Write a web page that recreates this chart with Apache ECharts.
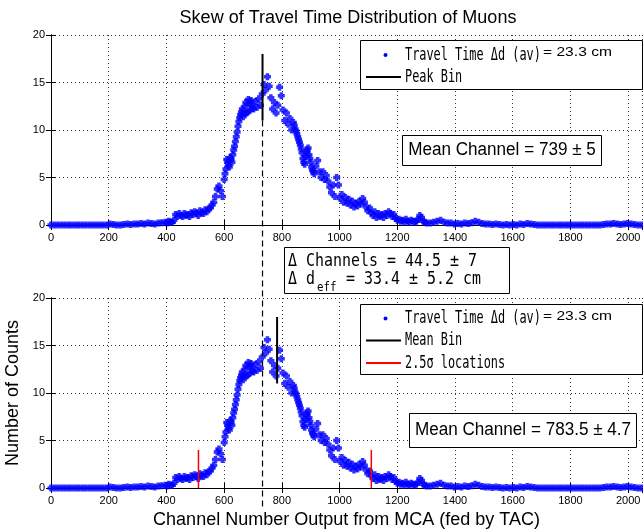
<!DOCTYPE html>
<html>
<head>
<meta charset="utf-8">
<script src="https://cdn.jsdelivr.net/npm/echarts@6.0.0/dist/echarts.min.js"></script>
<style>
  html, body { margin: 0; padding: 0; background: #fff; }
  #main { width: 643px; height: 531px; }
</style>
</head>
<body>
<div id="main"></div>
<script>
// counts per MCA channel (same spectrum in both panels)
var tailStep = 12;
var tailLeftStart = 0;
var tailLeft = [
  0, 0, 0, 0, 0, 0, 0, 0, 0, 0, 0, 0, 0, 0, 0, 0, 0,
  0.1, 0.05, 0, 0, 0.05, 0.1, 0.05, 0.1, 0.1, 0.15, 0.1, 0.2, 0.15, 0.1, 0.2, 0.25
];
var coreStart = 396, coreStep = 6;
var core = [
  0.3, 0.2, 0.4, 0.3, 0.3, 0.5,
  1.1, 0.9, 1.2, 1.0, 0.9, 1.2, 1.0, 1.1, 0.9, 1.3,
  1.1, 1.4, 1.2, 1.0, 1.5, 1.3, 1.2, 1.6, 1.4, 1.7,
  1.8, 2.1, 2.4, 3.0, 3.8, 4.1, 3.6, 3.0, 4.8, 5.9,
  6.6, 6.1, 6.9, 7.4, 8.3, 9.3, 10.4, 11.3, 11.9, 11.4,
  12.5, 11.8, 13.2, 12.1, 12.7, 12.2, 13.0, 12.4, 13.3, 12.6,
  13.8, 14.8, 14.2, 15.6, 14.6, 13.4, 12.2, 12.9, 11.8, 12.6,
  14.5, 13.6, 12.1, 11.0, 11.8, 10.6, 11.2, 10.0, 10.8, 10.1,
  9.6, 9.0, 8.4, 7.6, 6.6, 7.2, 7.9, 7.4, 6.6, 5.8,
  5.4, 6.2, 6.8, 5.6, 5.0, 5.6, 4.8, 5.2, 4.6, 4.0,
  3.4, 4.2, 3.0, 5.0, 4.2, 2.8, 3.2, 2.4, 2.9, 2.3,
  2.7, 2.1, 2.5, 1.9, 2.3, 2.0, 2.5, 2.2, 2.8, 2.4,
  1.9, 1.5, 1.8, 1.3, 1.0, 1.4, 0.8, 1.2, 0.9, 1.1,
  0.8, 1.2, 1.0, 1.4, 1.2, 0.9, 1.1, 0.7, 0.5, 0.6,
  0.4, 0.5, 0.3, 0.6, 0.4, 0.3, 0.5, 0.4, 0.3, 0.4,
  0.6, 1.0, 0.8, 0.4, 0.3, 0.2
];
// extra readings on the steep flanks (channels in between the core grid)
var riseStart = 603;
var rise = [5.4, 6.9, 6.3, 7.1, 6.6, 7.9, 8.8, 9.8, 10.9, 11.6, 12.2, 11.7, 12.9, 11.9, 12.8, 13.1, 12.3];
var fallStart = 843;
var fall = [10.5, 9.9, 9.3, 8.7, 8.0, 7.0, 6.4, 7.6, 8.1, 7.0, 6.1, 5.6];
var tailRightStart = 1314;
var tailRight = [
  0.2, 0.3, 0.4, 0.5, 0.3, 0.2, 0.2, 0.1, 0.15, 0.1, 0.2, 0.15, 0.25, 0.4, 0.3, 0.15, 0.1, 0.1, 0.05, 0.1,
  0.05, 0, 0.05, 0, 0.05, 0, 0.1, 0.05, 0.15, 0.1, 0.05, 0, 0, 0, 0, 0, 0, 0, 0, 0,
  0, 0, 0, 0, 0, 0, 0, 0, 0, 0, 0.05, 0.1, 0.1, 0.15, 0.1, 0.05, 0.1, 0.15, 0.1, 0.05,
  0, 0
];
var peakBin = 733;        // top panel marker
var meanBin = 783.5;      // bottom panel marker
var sigmaLocs = [511, 1110];
var barLow = 11, barHigh = 18, sigmaHigh = 4;
var dashTop = 11, dashBottom = -2;
var xTicks = { min: 0, max: 2048, interval: 200 };
var yTicks = { min: 0, max: 20, interval: 5 };

function spectrum() {
  var out = [];
  function add(arr, start, step) {
    arr.forEach(function (v, i) { out.push([start + i * step, v]); });
  }
  add(tailLeft, tailLeftStart, tailStep);
  add(core, coreStart, coreStep);
  add(rise, riseStart, coreStep);
  add(fall, fallStart, coreStep);
  add(tailRight, tailRightStart, tailStep);
  return out;
}
var pts = spectrum();

var FONT = 'Liberation Sans';
var MONO = 'DejaVu Sans Mono';
var BLUE = '#0000ff';
var STAR = 'path://M1.5,0H4.5V1.5H6V4.5H4.5V6H1.5V4.5H0V1.5H1.5Z';

function xAxesFor(g, withName) {
  var ax = {
    gridIndex: g, type: 'value', min: xTicks.min, max: xTicks.max, interval: xTicks.interval,
    position: 'bottom',
    axisLine: { lineStyle: { color: '#000', width: 1 } },
    axisTick: { inside: true, length: 5, lineStyle: { color: '#000' } },
    axisLabel: { color: '#000', fontSize: 11, fontFamily: FONT, margin: 7, showMaxLabel: false,
      formatter: function (v) { return String(v); } },
    splitLine: { show: true, lineStyle: { color: '#333', type: [1, 3] } }
  };
  if (withName) {
    ax.name = 'Channel Number Output from MCA (fed by TAC)';
    ax.nameLocation = 'middle';
    ax.nameGap = 23;
    ax.nameTextStyle = { color: '#000', fontSize: 18, fontFamily: FONT };
  }
  var top = {
    gridIndex: g, type: 'value', min: xTicks.min, max: xTicks.max, interval: xTicks.interval,
    position: 'top',
    axisLine: { lineStyle: { color: '#000', width: 1 } },
    axisTick: { inside: true, length: 5, lineStyle: { color: '#000' } },
    axisLabel: { show: false }, splitLine: { show: false }
  };
  return [ax, top];
}
function yAxesFor(g, withName) {
  var ax = {
    gridIndex: g, type: 'value', min: yTicks.min, max: yTicks.max, interval: yTicks.interval,
    position: 'left',
    axisLine: { show: true, lineStyle: { color: '#000', width: 1 } },
    axisTick: { show: true, inside: true, length: 5, lineStyle: { color: '#000' } },
    axisLabel: { color: '#000', fontSize: 11, fontFamily: FONT, margin: 6 },
    splitLine: { show: true, lineStyle: { color: '#333', type: [1, 3] } }
  };
  if (withName) {
    ax.name = 'Number of Counts';
    ax.nameLocation = 'middle';
    ax.nameGap = 24;
    ax.nameRotate = 90;
    ax.nameTextStyle = { color: '#000', fontSize: 18, fontFamily: FONT };
  }
  var right = {
    gridIndex: g, type: 'value', min: yTicks.min, max: yTicks.max, interval: yTicks.interval,
    position: 'right',
    axisLine: { show: true, lineStyle: { color: '#000', width: 1 } },
    axisTick: { show: true, inside: true, length: 5, lineStyle: { color: '#000' } },
    axisLabel: { show: false }, splitLine: { show: false }
  };
  return [ax, right];
}

function bar(xi, yi, x, y0, y1, color, w) {
  return {
    type: 'line', xAxisIndex: xi, yAxisIndex: yi, data: [[x, y0], [x, y1]],
    symbol: 'none', lineStyle: { color: color, width: w }, z: 5, silent: true
  };
}

var myChart = echarts.init(document.getElementById('main'));
var option = {
  animation: false,
  backgroundColor: '#fff',
  title: {
    text: 'Skew of Travel Time Distribution of Muons',
    left: 348, top: 9, textAlign: 'center', padding: 0,
    textStyle: { color: '#000', fontSize: 18, fontWeight: 'normal', fontFamily: FONT }
  },
  grid: [
    { left: 51, right: 1, top: 35, height: 190, outerBoundsMode: 'none', containLabel: false },
    { left: 51, right: 1, top: 298, height: 190, outerBoundsMode: 'none', containLabel: false }
  ],
  xAxis: xAxesFor(0, false).concat(xAxesFor(1, true)),
  yAxis: yAxesFor(0, false).concat(yAxesFor(1, true)),
  series: [
    { type: 'scatter', xAxisIndex: 0, yAxisIndex: 0, data: pts, symbol: STAR, symbolSize: 7,
      itemStyle: { color: BLUE }, silent: true },
    { type: 'scatter', xAxisIndex: 2, yAxisIndex: 2, data: pts, symbol: STAR, symbolSize: 7,
      itemStyle: { color: BLUE }, silent: true },
    bar(0, 0, peakBin, barLow, barHigh, '#000', 2),
    bar(2, 2, meanBin, barLow, barHigh, '#000', 2),
    bar(2, 2, sigmaLocs[0], 0, sigmaHigh, '#ff0000', 1.5),
    bar(2, 2, sigmaLocs[1], 0, sigmaHigh, '#ff0000', 1.5)
  ]
};
myChart.setOption(option);

// text boxes and legends
function txt(s, x, y, size, fam, sx, extra) {
  var o = {
    type: 'text', x: x, y: y, scaleX: sx || 1, z: 101,
    style: { text: s, fontSize: size, fontFamily: fam, fill: '#000', align: 'left', verticalAlign: 'middle' }
  };
  if (extra) for (var k in extra) o.style[k] = extra[k];
  return o;
}
function box(x, y, w, h) {
  return { type: 'rect', z: 100, shape: { x: x, y: y, width: w, height: h },
    style: { fill: '#fff', stroke: '#000', lineWidth: 1 } };
}
function hline(x1, x2, y, color) {
  return { type: 'line', z: 101, shape: { x1: x1, y1: y, x2: x2, y2: y },
    style: { stroke: color, lineWidth: 2 } };
}
function dot(x, y) {
  return { type: 'circle', z: 101, shape: { cx: x, cy: y, r: 2 }, style: { fill: BLUE } };
}

var p1 = myChart.convertToPixel({ gridIndex: 0 }, [peakBin, dashTop]);
var p2 = myChart.convertToPixel({ gridIndex: 1 }, [peakBin, dashBottom]);

var graphics = [
  { type: 'line', z: 50, shape: { x1: p1[0], y1: p1[1], x2: p2[0], y2: p2[1] },
    style: { stroke: '#000', lineWidth: 1.2, lineDash: [6, 4] } },

  // top legend
  box(360.5, 40.5, 282, 49),
  dot(385.5, 55),
  txt('Travel Time \u0394d (av)', 405, 55, 18, MONO, 0.66),
  txt('= 23.3 cm', 543, 53, 12, FONT, 1.3),
  hline(366, 401, 77, '#000'),
  txt('Peak Bin', 405, 77, 18, MONO, 0.66),

  box(402.5, 135.5, 199, 30),
  txt('Mean Channel = 739 \u00b1 5', 502, 150.5, 18, FONT, 0.95, { align: 'center' }),

  // middle box
  box(284.5, 247.5, 225, 46),
  txt('\u0394 Channels = 44.5 \u00b1 7', 288, 261.5, 18, MONO, 0.83),
  txt('\u0394 d', 288, 279, 18, MONO, 0.83),
  txt('eff', 317, 288, 13, MONO, 0.83),
  txt(' = 33.4 \u00b1 5.2 cm', 337, 279, 18, MONO, 0.83),

  // bottom legend
  box(360.5, 304.5, 282, 70),
  dot(385.5, 318.5),
  txt('Travel Time \u0394d (av)', 405, 318.5, 18, MONO, 0.66),
  txt('= 23.3 cm', 543, 316.5, 12, FONT, 1.3),
  hline(366, 401, 340.5, '#000'),
  txt('Mean Bin', 405, 340.5, 18, MONO, 0.66),
  hline(366, 401, 363, '#ff0000'),
  txt('2.5\u03c3 locations', 405, 363, 18, MONO, 0.66),

  box(409.5, 413.5, 227, 34),
  txt('Mean Channel = 783.5 \u00b1 4.7', 523, 430.5, 18, FONT, 0.95, { align: 'center' })
];
myChart.setOption({ graphic: graphics });
</script>
</body>
</html>
